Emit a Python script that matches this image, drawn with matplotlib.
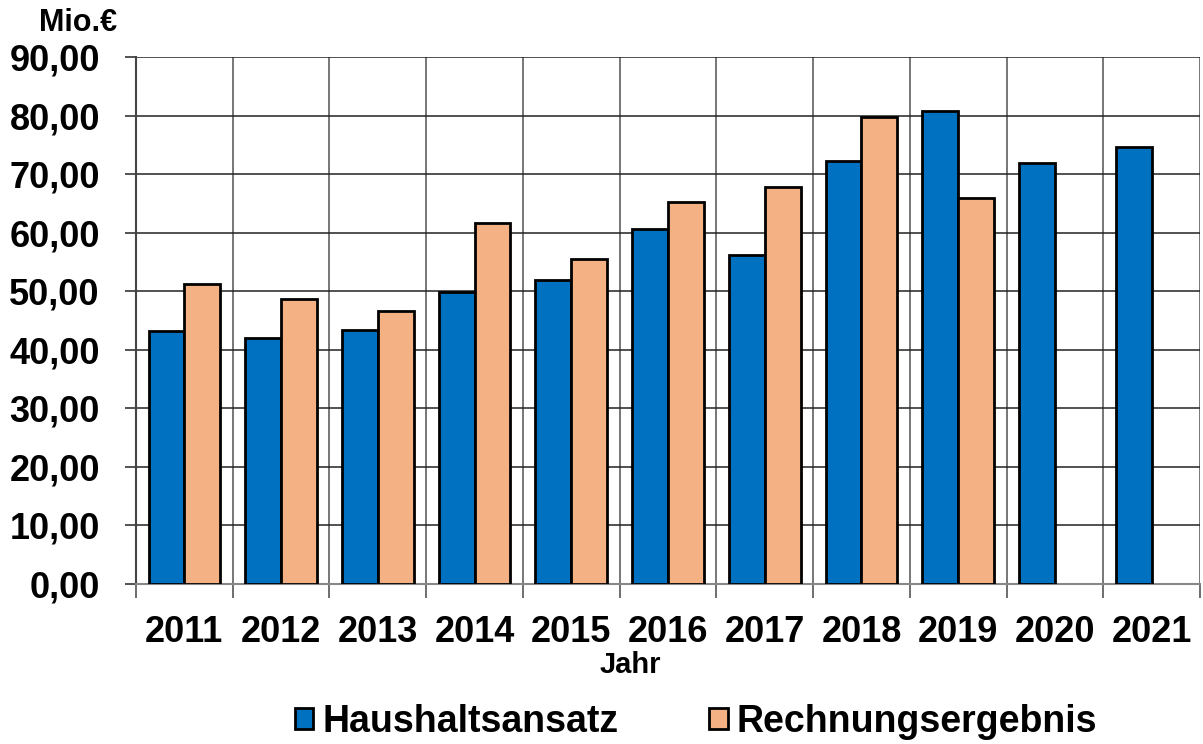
import matplotlib
matplotlib.use("Agg")
import matplotlib.pyplot as plt
import numpy as np

years = ["2011", "2012", "2013", "2014", "2015", "2016", "2017", "2018", "2019", "2020", "2021"]
haushaltsansatz = [43.2, 41.95, 43.4, 49.9, 51.9, 60.6, 56.2, 72.3, 80.8, 71.9, 74.6]
rechnungsergebnis = [51.3, 48.6, 46.7, 61.6, 55.5, 65.3, 67.8, 79.7, 66.0, None, None]
yticks = [0, 10, 20, 30, 40, 50, 60, 70, 80, 90]
ytick_labels = ["0,00", "10,00", "20,00", "30,00", "40,00", "50,00", "60,00", "70,00", "80,00", "90,00"]

plt.rcParams['font.family'] = ['Liberation Sans', 'DejaVu Sans']
plt.rcParams['font.weight'] = 'bold'

W, H = 1203, 744
fig = plt.figure(figsize=(W / 100, H / 100), dpi=100)
ax = fig.add_axes([136 / W, 1 - 584 / H, (1200 - 136) / W, (584 - 57) / H])

x = np.arange(len(years))
bw = 0.37
blue = "#0070C0"
orange = "#F4B183"
ax.bar(x - bw / 2, haushaltsansatz, bw, color=blue, edgecolor="black", linewidth=2.0,
       label="Haushaltsansatz", zorder=3)
r_x = [xi for xi, v in zip(x, rechnungsergebnis) if v is not None]
r_v = [v for v in rechnungsergebnis if v is not None]
ax.bar(np.array(r_x) + bw / 2, r_v, bw, color=orange, edgecolor="black", linewidth=2.0,
       label="Rechnungsergebnis", zorder=3)

ax.set_xlim(-0.5, len(years) - 0.5)
ax.set_ylim(0, 90)

# y axis
ax.set_yticks(yticks)
ax.set_yticklabels(ytick_labels, fontsize=26, fontweight='bold')
ax.tick_params(axis='y', length=8, width=1.2, color='#333333', pad=18)
ax.yaxis.grid(True, color='#222222', linewidth=1.1, zorder=0)

# x axis: boundaries as major ticks, labels at centers
bounds = np.arange(-0.5, len(years) + 0.5, 1.0)
ax.set_xticks(bounds)
ax.set_xticklabels([])
ax.tick_params(axis='x', which='major', length=10, width=1.2, color='#555555')
ax.set_xticks(x, minor=True)
ax.set_xticklabels(years, minor=True, fontsize=26, fontweight='bold')
ax.tick_params(axis='x', which='minor', length=0, pad=22)
ax.xaxis.grid(True, which='major', color='#777777', linewidth=1.4, zorder=0)

for s in ['top', 'right']:
    ax.spines[s].set_visible(False)
ax.spines['left'].set_color('#444444')
ax.spines['left'].set_linewidth(1.5)
ax.spines['bottom'].set_color('#888888')
ax.spines['bottom'].set_linewidth(1.5)
ax.set_axisbelow(True)

fig.text(78 / W, 1 - 23 / H, "Mio.€", fontsize=22, fontweight='bold', ha='center', va='center')
fig.text(630 / W, 1 - 665 / H, "Jahr", fontsize=21, fontweight='bold', ha='center', va='center')

leg = fig.legend(loc='center', bbox_to_anchor=(696 / W, 1 - 722 / H), ncol=2, frameon=False,
                 prop={'weight': 'bold', 'size': 27}, handlelength=0.5, handleheight=0.5,
                 handletextpad=0.25, columnspacing=2.4)

fig.savefig("out.png", dpi=100)
